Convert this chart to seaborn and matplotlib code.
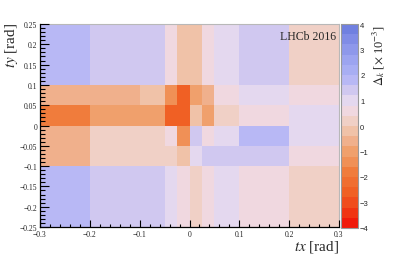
import numpy as np
import pandas as pd
import matplotlib
matplotlib.use("Agg")
import matplotlib.pyplot as plt
from matplotlib.colors import ListedColormap, BoundaryNorm
from matplotlib.ticker import MultipleLocator, FuncFormatter
import seaborn as sns

# bin edges of the 2D map
tx_edges = [-0.3, -0.2, -0.1, -0.05, -0.025, 0, 0.025, 0.05, 0.1, 0.2, 0.3]
ty_edges = [-0.25, -0.1, -0.05, 0, 0.05, 0.1, 0.25]

# Delta_k [x 1e-3], one row per ty bin (bottom -> top), one value per tx bin
delta_k = [
    [1.8, 1.4, 1.4, 1.0, 0.6, 0.2, 0.6, 1.0, 0.6, 0.2],
    [-0.6, 0.2, 0.2, 0.2, -0.2, 1.0, 1.4, 1.4, 1.4, 0.6],
    [-0.6, 0.2, 0.2, 0.6, -1.4, 1.4, 0.6, 1.0, 1.8, 1.0],
    [-1.8, -1.0, -1.0, -2.6, -2.6, -0.2, -1.0, 0.2, 0.6, 1.0],
    [-0.6, -0.6, -0.2, -1.4, -2.6, -1.0, -0.6, 0.6, 1.0, 0.6],
    [1.8, 1.4, 1.4, 0.6, -0.2, -0.2, 0.6, 1.0, 1.4, 0.2],
]

cbar_ticks = [-4, -3, -2, -1, 0, 1, 2, 3, 4]

# 20 contour colours from -4 to 4 (ROOT-like palette)
band_colors = ['#f01a0a', '#f03412', '#f04c1c', '#f06024', '#f06e30',
               '#f07c3c', '#f09056', '#f0a06c', '#f0b08c', '#f0c2a8',
               '#f0d0c6', '#f0d8e0', '#e4d8ef', '#d0c8f0', '#b8b8f5',
               '#a8aef3', '#9ca4f0', '#8e98eb', '#808ce6', '#7080e0']
cmap = ListedColormap(band_colors)
norm = BoundaryNorm(np.linspace(-4, 4, 21), cmap.N)

# one weighted entry per cell centre
xc = (np.array(tx_edges[:-1]) + np.array(tx_edges[1:])) / 2
yc = (np.array(ty_edges[:-1]) + np.array(ty_edges[1:])) / 2
X, Y = np.meshgrid(xc, yc)
df = pd.DataFrame({'tx': X.ravel(), 'ty': Y.ravel(),
                   'dk': np.array(delta_k).ravel()})

sns.set_style("ticks")
plt.rcParams['font.family'] = ['Liberation Serif', 'DejaVu Serif']
plt.rcParams['mathtext.fontset'] = 'stix'

fig = plt.figure(figsize=(3.99, 2.55), dpi=100)
ax = fig.add_axes([40/399, 1-228/255, 299/399, 203/255])
cax = fig.add_axes([341/399, 1-229/255, 17/399, 204/255])

sns.histplot(data=df, x='tx', y='ty', weights='dk',
             bins=[tx_edges, ty_edges], thresh=None,
             cmap=cmap, norm=norm, vmin=None, vmax=None,
             cbar=True, cbar_ax=cax, ax=ax)

ax.set_xlim(-0.3, 0.3)
ax.set_ylim(-0.25, 0.25)
ax.set_xlabel('')
ax.set_ylabel('')
ax.grid(False)

fmt = FuncFormatter(lambda v, p: ('%g' % round(v, 4)).replace('-', '\u2212'))
ax.xaxis.set_major_locator(MultipleLocator(0.1))
ax.xaxis.set_minor_locator(MultipleLocator(0.02))
ax.yaxis.set_major_locator(MultipleLocator(0.05))
ax.yaxis.set_minor_locator(MultipleLocator(0.01))
ax.xaxis.set_major_formatter(fmt)
ax.yaxis.set_major_formatter(fmt)
ax.tick_params(axis='both', which='both', direction='in', top=False,
               right=False, labelsize=5.5, pad=2, color='black', width=0.8,
               labelcolor='#222222')
ax.tick_params(axis='x', which='major', length=4.8)
ax.tick_params(axis='x', which='minor', length=2.4)
ax.tick_params(axis='y', which='major', length=6.5)
ax.tick_params(axis='y', which='minor', length=3.5)
for s in ['left', 'bottom']:
    ax.spines[s].set_color('black')
    ax.spines[s].set_linewidth(0.9)
    ax.spines[s].set_zorder(5)
for s in ['top', 'right']:
    ax.spines[s].set_color('#b8b8b8')
    ax.spines[s].set_linewidth(0.8)
ax.set_axisbelow(False)

cbar = ax.collections[0].colorbar
cbar.set_ticks(cbar_ticks)
cbar.ax.yaxis.set_major_formatter(FuncFormatter(lambda v, p: ('%g' % v).replace('-', '\u2212')))
cbar.ax.minorticks_off()
cbar.ax.tick_params(direction='in', length=5, width=0.7, pad=1.5,
                    labelsize=5.5, color='#333333')
for t in cbar.ax.get_yticklabels():
    t.set_family('Liberation Sans')
cbar.outline.set_edgecolor('#999999')
cbar.outline.set_linewidth(0.8)

fig.text(11.5/399, 1-23/255, '$ty$ [rad]', rotation=90, ha='center',
         va='top', fontsize=11)
fig.text(339/399, 1-247/255, '$tx$ [rad]', ha='right', va='center',
         fontsize=11)
fig.text(336/399, 1-37.5/255, 'LHCb 2016', ha='right', va='center',
         fontsize=8.5)
fig.text(379/399, 1-25/255, r'$\Delta_k$ [$\times$ 10$^{-3}$]', rotation=90,
         ha='center', va='top', fontsize=9)

fig.savefig('out.png', dpi=100)
